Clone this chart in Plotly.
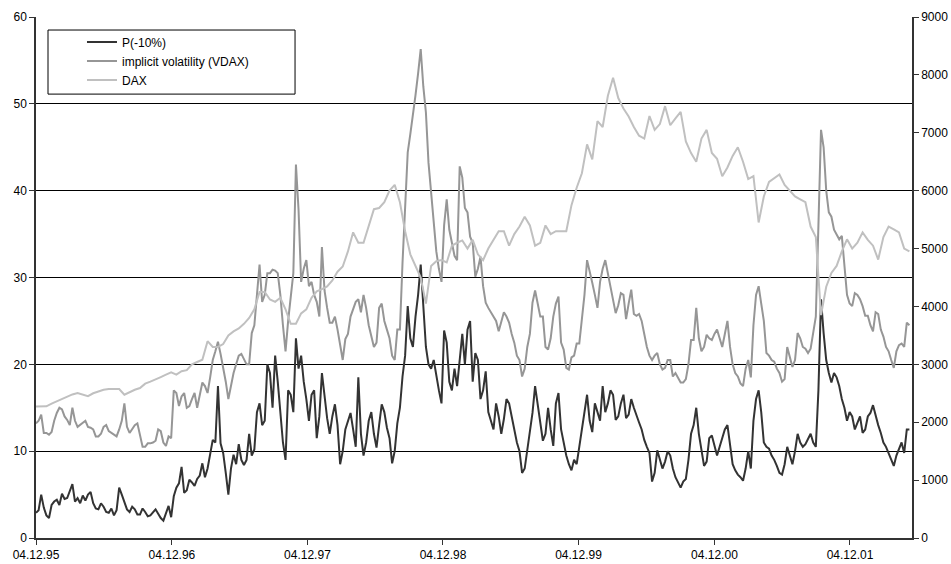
import pandas as pd
import plotly.graph_objects as go

# weekly samples for P(-10%) and VDAX, bi-weekly samples for DAX, from 04.12.1995
weekly_dates = pd.date_range("1995-12-04", periods=337, freq="7D")
biweekly_dates = pd.date_range("1995-12-04", periods=169, freq="14D")

p_minus10 = [
    2.9, 3.2, 5.0, 3.5, 2.6, 2.3, 3.8, 4.2, 4.4, 3.8,
    5.1, 4.5, 4.6, 5.3, 6.2, 4.2, 4.6, 4.0, 4.9, 4.3,
    5.0, 5.3, 4.0, 3.4, 3.3, 4.0, 3.6, 3.0, 2.9, 3.4,
    2.6, 3.2, 5.8, 5.0, 4.0, 3.3, 3.0, 3.6, 3.3, 2.7,
    2.7, 3.4, 3.0, 2.5, 2.6, 3.0, 3.3, 2.8, 2.3, 2.0,
    3.0, 3.7, 2.4, 4.8, 5.8, 6.3, 8.2, 5.2, 5.5, 6.7,
    6.4, 6.0, 6.8, 7.2, 8.6, 7.0, 8.0, 9.5, 11.3, 11.0,
    17.5, 10.9, 9.8, 7.5, 5.0, 8.0, 9.6, 8.5, 10.8, 9.0,
    8.4, 9.0, 12.0, 9.5, 10.2, 14.5, 15.5, 13.0, 13.5, 20.0,
    19.0, 15.0, 21.0, 18.0, 14.0, 11.0, 9.0, 17.0, 16.5, 14.5,
    23.0, 19.5, 21.0, 18.0, 16.0, 13.5, 16.5, 17.0, 11.5, 14.0,
    19.0, 16.0, 13.8, 12.0, 14.0, 15.4, 13.0, 8.5, 10.0, 12.5,
    13.5, 14.4, 12.5, 10.5, 18.5, 12.0, 9.5, 11.0, 13.5, 14.5,
    12.0, 10.4, 13.0, 15.4, 14.5, 12.7, 11.5, 8.6, 10.0, 13.2,
    15.0, 18.6, 21.0, 26.7, 23.0, 22.0, 25.5, 28.0, 31.5, 26.7,
    22.0, 20.0, 19.5, 20.5, 18.5, 17.0, 15.5, 23.9, 22.5, 18.0,
    17.0, 19.5, 17.5, 21.0, 23.5, 20.0, 24.0, 25.0, 18.0, 21.3,
    20.5, 16.0, 17.0, 19.2, 14.5, 13.5, 12.5, 15.5, 14.0, 12.0,
    13.7, 16.0, 15.5, 14.0, 12.5, 11.0, 10.0, 7.5, 8.0, 10.2,
    12.5, 14.4, 17.5, 15.5, 13.7, 11.2, 12.0, 15.0, 12.5, 10.6,
    15.5, 16.7, 12.5, 11.0, 9.5, 8.5, 7.8, 9.0, 8.5, 10.5,
    12.5, 14.0, 16.5, 13.5, 12.2, 15.5, 14.4, 13.5, 17.5, 14.5,
    15.5, 17.0, 16.5, 13.6, 14.0, 15.5, 16.5, 13.8, 14.2, 16.0,
    15.0, 14.0, 13.3, 12.5, 11.3, 10.5, 9.8, 6.5, 7.5, 10.1,
    9.0, 8.0, 8.8, 10.0, 9.5, 8.0, 7.0, 6.3, 5.8, 6.5,
    6.8, 9.0, 12.0, 13.0, 15.0, 12.0, 10.0, 8.3, 8.8, 11.5,
    11.8, 10.5, 9.5, 10.5, 11.5, 12.5, 13.0, 10.5, 8.5, 7.8,
    7.3, 7.0, 6.6, 8.0, 10.0, 8.0, 13.5, 16.0, 17.0, 14.5,
    11.0, 10.5, 10.3, 9.5, 9.0, 8.3, 7.5, 7.3, 8.5, 10.5,
    9.5, 8.5, 10.0, 12.0, 11.0, 10.5, 10.8, 11.5, 12.0, 11.0,
    10.5, 17.0, 27.5, 23.6, 20.5, 19.0, 17.9, 19.0, 18.5, 17.5,
    16.0, 15.0, 13.5, 14.5, 14.0, 12.5, 13.3, 14.0, 12.1, 12.5,
    14.0, 14.4, 15.3, 14.0, 13.0, 12.1, 11.0, 10.5, 9.8, 9.0,
    8.3, 9.5, 10.3, 11.0, 9.8, 12.5, 12.5,
]

vdax = [
    13.2, 13.5, 14.2, 12.1, 12.1, 11.9, 12.2, 13.5, 14.4, 15.0,
    14.8, 14.0, 13.6, 13.0, 15.0, 13.5, 12.8, 13.0, 13.2, 13.5,
    12.8, 12.7, 12.5, 11.7, 11.7, 12.0, 12.8, 13.0, 12.3, 12.1,
    11.9, 11.7, 12.5, 13.5, 15.5, 12.8, 12.1, 12.5, 13.0, 13.2,
    12.0, 10.5, 10.5, 10.9, 10.9, 11.0, 11.2, 12.5, 12.3, 11.0,
    10.6, 11.7, 11.5, 17.0, 16.7, 15.2, 16.3, 16.7, 15.0, 15.2,
    16.0, 16.7, 15.0, 16.5, 17.9, 17.5, 16.7, 18.5, 20.5, 21.5,
    22.6, 21.2, 19.7, 18.0, 16.0, 17.5, 19.0, 20.0, 21.0, 21.2,
    20.5, 20.0, 20.0, 23.6, 24.5, 28.0, 31.5, 27.2, 28.0, 30.5,
    30.5, 30.9, 30.8, 30.5, 28.0, 24.5, 21.5, 25.0, 27.5, 30.5,
    43.0, 37.8, 29.5, 31.0, 32.0, 29.0, 29.5, 28.0, 27.2, 25.5,
    33.5, 28.5, 26.5, 24.8, 24.8, 25.5, 24.0, 22.0, 20.5, 22.9,
    23.5, 25.5, 26.5, 27.2, 27.5, 26.0, 28.0, 26.5, 24.5, 23.2,
    22.0, 22.5, 26.5, 27.0, 25.0, 24.0, 23.0, 21.0, 20.5, 24.0,
    24.0, 31.7, 38.0, 44.4, 46.5, 48.5, 51.0, 53.5, 56.3, 52.0,
    49.0, 43.2, 39.5, 36.5, 33.0, 31.0, 29.5, 36.0, 39.0, 35.5,
    34.0, 32.5, 32.0, 42.8, 41.5, 38.0, 37.5, 34.7, 34.0, 30.1,
    31.0, 32.4, 29.0, 27.1, 26.5, 26.0, 25.5, 25.0, 23.8, 25.0,
    26.0, 25.5, 24.8, 23.5, 22.5, 21.0, 20.5, 18.6, 19.5, 22.0,
    23.5, 27.1, 28.5, 27.0, 25.5, 25.5, 22.0, 21.7, 23.0, 25.5,
    27.0, 27.8, 22.5, 21.7, 19.6, 19.4, 20.8, 21.0, 22.4, 22.4,
    25.5, 28.0, 32.0, 30.5, 29.4, 28.0, 26.5, 29.5, 31.0, 32.0,
    30.5, 29.0, 27.5, 25.9, 26.8, 28.2, 28.0, 25.2, 27.0, 28.6,
    25.8, 25.6, 25.8, 25.0, 23.5, 22.0, 21.0, 20.5, 21.0, 21.3,
    20.0, 19.4, 19.6, 20.5, 20.5, 18.6, 19.0, 18.5, 17.9, 17.9,
    18.3, 20.0, 22.8, 22.8, 26.5, 23.0, 21.5, 22.0, 23.4, 23.0,
    22.8, 23.5, 24.0, 23.0, 22.0, 23.5, 25.0, 22.0, 20.0, 19.0,
    18.6, 17.8, 17.5, 19.5, 20.5, 18.5, 24.5, 28.0, 29.0, 27.0,
    25.0, 21.3, 21.0, 20.5, 20.3, 19.5, 19.0, 18.0, 18.3, 22.0,
    21.0, 19.7, 20.5, 23.6, 23.0, 22.0, 21.8, 21.3, 21.8, 23.6,
    25.5, 36.0, 47.0, 45.0, 40.0, 37.5, 37.0, 35.5, 35.0, 34.4,
    34.8, 31.0, 28.0, 27.0, 26.7, 28.2, 28.0, 27.5, 26.7, 25.6,
    25.6, 24.5, 23.8, 26.0, 25.8, 24.0, 23.2, 22.0, 21.5, 20.5,
    19.6, 21.5, 22.2, 22.4, 22.0, 24.8, 24.5,
]

dax = [
    2270, 2270, 2275, 2320, 2360, 2400, 2446, 2480, 2504, 2470,
    2450, 2500, 2533, 2560, 2574, 2580, 2574, 2475, 2520, 2560,
    2590, 2666, 2700, 2735, 2780, 2822, 2860, 2822, 2880, 2900,
    3000, 3040, 3080, 3400, 3300, 3300, 3350, 3500, 3570, 3620,
    3700, 3800, 3950, 4250, 4250, 4120, 4080, 4150, 3950, 3700,
    3700, 3880, 3950, 4150, 4260, 4300, 4345, 4450, 4600, 4690,
    4950, 5280, 5100, 5100, 5400, 5680, 5700, 5800, 6000, 6100,
    5800, 5300, 4900, 4700, 4500, 4050, 4700, 4780, 4800, 4760,
    5050, 5100, 5140, 5000, 5150, 4900, 4800, 5000, 5160, 5300,
    5300, 5050, 5250, 5380, 5550, 5400, 5050, 5100, 5400, 5250,
    5300, 5300, 5300, 5750, 6050, 6300, 6800, 6540, 7200, 7100,
    7640, 7950, 7600, 7420, 7280, 7100, 6950, 6900, 7290, 7050,
    7150, 7460, 7130, 7250, 7360, 6850, 6650, 6500, 6900, 7050,
    6650, 6550, 6250, 6400, 6600, 6750, 6500, 6200, 6250, 5450,
    5900, 6150, 6220, 6280, 6100, 6000, 5900, 5850, 5800, 5380,
    5200, 3850, 4340, 4580, 4700, 4950, 5160, 5000, 5100, 5280,
    5150, 5050, 4810, 5200, 5380, 5330, 5280, 5000, 4950,
]

tick_dates = ["1995-12-04", "1996-12-04", "1997-12-04", "1998-12-04",
              "1999-12-04", "2000-12-04", "2001-12-04"]
tick_labels = ["04.12.95", "04.12.96", "04.12.97", "04.12.98",
               "04.12.99", "04.12.00", "04.12.01"]

FONT = "Liberation Sans, Arial, sans-serif"

fig = go.Figure()
fig.add_trace(go.Scatter(x=biweekly_dates, y=dax, name="DAX", yaxis="y2", mode="lines",
                         line=dict(color="#c0c0c0", width=2)))
fig.add_trace(go.Scatter(x=weekly_dates, y=vdax, name="implicit volatility (VDAX)", mode="lines",
                         line=dict(color="#969696", width=2)))
fig.add_trace(go.Scatter(x=weekly_dates, y=p_minus10, name="P(-10%)", mode="lines",
                         line=dict(color="#333333", width=2)))

fig.update_layout(
    width=951, height=564,
    margin=dict(l=36, r=39, t=17, b=26),
    paper_bgcolor="white", plot_bgcolor="white",
    font=dict(family=FONT, size=12, color="black"),
    showlegend=True,
    legend=dict(x=0.0525, y=0.98, xanchor="left", yanchor="top",
                traceorder="reversed", bgcolor="rgba(0,0,0,0)",
                borderwidth=0, font=dict(family=FONT, size=12, color="black"),
                itemwidth=30, tracegroupgap=0),
    xaxis=dict(type="date", range=["1995-12-04", "2002-05-20"], automargin=False,
               tickmode="array", tickvals=tick_dates, ticktext=tick_labels,
               showgrid=False, showline=True, linecolor="#333333", linewidth=1.5,
               ticks="outside", ticklen=5, tickcolor="#333333", zeroline=False,
               tickfont=dict(family=FONT, size=12, color="black")),
    yaxis=dict(range=[0, 60], dtick=10, tick0=0, showgrid=True, gridcolor="black",
               gridwidth=1, showline=True, linecolor="#333333", linewidth=1.5,
               ticks="outside", ticklen=5, tickcolor="#333333", zeroline=False,
               automargin=False,
               tickfont=dict(family=FONT, size=12, color="black")),
    yaxis2=dict(range=[0, 9000], dtick=1000, tick0=0, overlaying="y", side="right",
                showgrid=False, showline=True, linecolor="#333333", linewidth=1.5,
                ticks="outside", ticklen=5, tickcolor="#333333", zeroline=False,
                automargin=False,
                tickfont=dict(family=FONT, size=12, color="black")),
    shapes=[dict(type="rect", xref="paper", yref="paper",
                 x0=0.0137, x1=0.2957, y0=0.852, y1=0.975,
                 line=dict(color="black", width=1), fillcolor="rgba(0,0,0,0)")],
)

fig.write_html("out.html", config={"displayModeBar": False},
               post_script="document.body.style.margin='0';")
